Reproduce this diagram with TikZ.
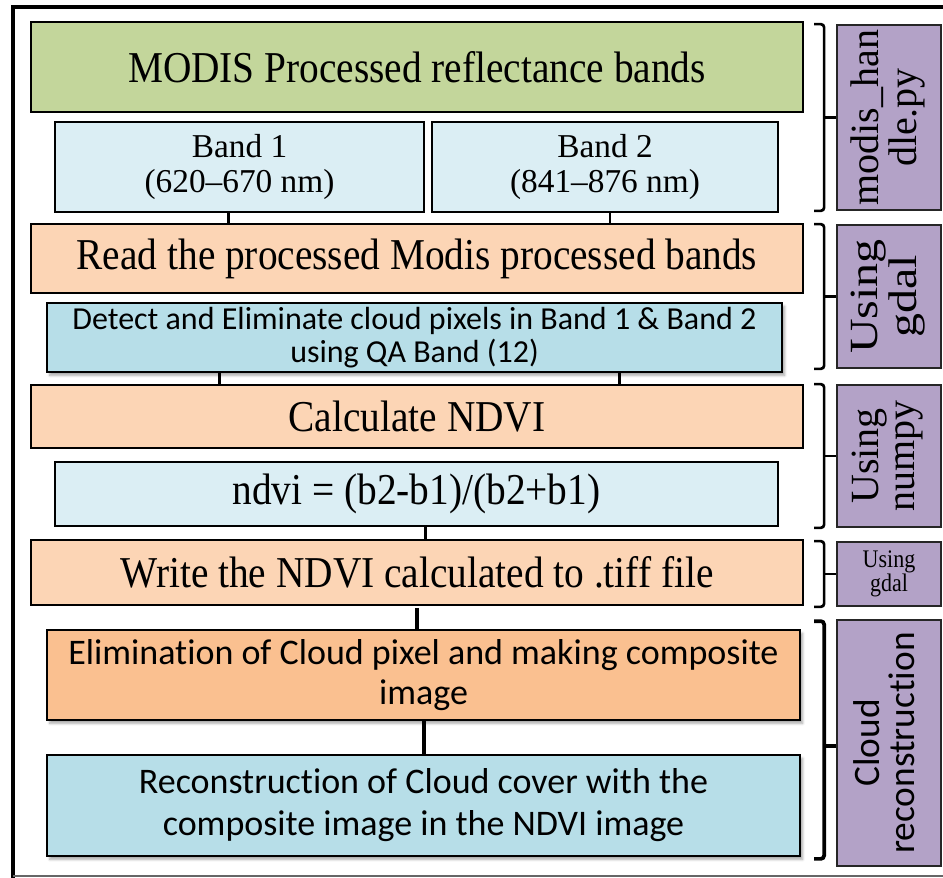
\documentclass[tikz,border=0pt]{standalone}
\usepackage{fontspec}
\usepackage{graphicx}
\setmainfont{Liberation Serif}
\newfontfamily\calib[Ligatures=NoCommon]{Carlito}
\usetikzlibrary{shadows.blur}

\definecolor{modisgreen}{HTML}{C3D69B}
\definecolor{paleblue}{HTML}{DBEEF4}
\definecolor{peach}{HTML}{FCD5B5}
\definecolor{qablue}{HTML}{B7DEE8}
\definecolor{deeppeach}{HTML}{FAC090}
\definecolor{toolpurple}{HTML}{B3A2C7}

% slightly tall serif lettering used in the step boxes
\newcommand\tallrm[1]{\scalebox{1}[1.12]{#1}}

\begin{document}
\begin{tikzpicture}[x=0.75pt,y=-0.75pt,
  box/.style={draw=black, line width=1.3pt, inner sep=0pt, align=center, text=black},
  serifbig/.style={font=\fontsize{29.5}{33}\selectfont},
  softshadow/.style={blur shadow={shadow xshift=2pt, shadow yshift=-2.5pt, shadow blur steps=6, shadow opacity=35}},
  link/.style={draw=black, line width=2.2pt},
  brk/.style={draw=black, line width=2pt, rounded corners=2.5pt},
  tool/.style={box, fill=toolpurple, draw=black!85}]
\useasboundingbox (0,0) rectangle (943,878);

% outer frame
\draw[line width=3pt] (13,882) -- (13,7) -- (950,7);
\draw[gray!80!black, line width=1.5pt] (13,876) -- (950,876);

% processing steps
\node[box, fill=modisgreen, minimum width=579pt, minimum height=67.5pt, serifbig] (modis) at (417,67) {\tallrm{MODIS Processed reflectance bands}};
\node[box, fill=paleblue, minimum width=276.75pt, minimum height=67.5pt, font=\fontsize{25}{26}\selectfont] (band1) at (239.5,167) {Band 1\\(620–670 nm)};
\node[box, fill=paleblue, minimum width=259.5pt, minimum height=67.5pt, font=\fontsize{25}{26}\selectfont] (band2) at (605,167) {Band 2\\(841–876 nm)};
\node[box, fill=peach, minimum width=579pt, minimum height=51.75pt, serifbig] (read) at (417,258.5) {\tallrm{Read the processed Modis processed bands}};
\node[box, fill=qablue, softshadow, minimum width=551.25pt, minimum height=51.75pt, font=\calib\fontsize{24}{24.5}\selectfont] (detect) at (414.5,337.5) {Detect and Eliminate cloud pixels in Band 1 \& Band 2\\using QA Band (12)};
\node[box, fill=peach, minimum width=579pt, minimum height=47.25pt, serifbig] (calc) at (417,416.5) {\tallrm{Calculate NDVI}};
\node[box, fill=paleblue, minimum width=542.25pt, minimum height=48pt, serifbig] (ndvi) at (416.5,494) {\tallrm{ndvi = (b2-b1)/(b2+b1)}};
\node[box, fill=peach, minimum width=579pt, minimum height=48.75pt, serifbig] (write) at (417,572.5) {\tallrm{Write the NDVI calculated to .tiff file}};
\node[box, fill=deeppeach, softshadow, minimum width=564.75pt, minimum height=67.5pt, font=\calib\fontsize{27}{30}\selectfont] (elim) at (423.5,675) {Elimination of Cloud pixel and making composite\\image};
\node[box, fill=qablue, softshadow, minimum width=564.75pt, minimum height=75.75pt, font=\calib\fontsize{27}{31.5}\selectfont] (recon) at (423.5,805.5) {Reconstruction of Cloud cover with the\\composite image in the NDVI image};

% connectors
\draw[link] ([xshift=-8.6pt]band1.south) -- ([xshift=-8.6pt]band1.south |- read.north);
\draw[link] ([xshift=3.75pt]band2.south) -- ([xshift=3.75pt]band2.south |- read.north);
\draw[link] ([xshift=-146pt]detect.south) -- ([xshift=-146pt]detect.south |- calc.north);
\draw[link] ([xshift=154pt]detect.south) -- ([xshift=154pt]detect.south |- calc.north);
\draw[link] ([xshift=6.4pt]ndvi.south) -- ([xshift=6.4pt]ndvi.south |- write.north);
\draw[link, line width=2.8pt] ([yshift=-1.5pt]write.south) -- (write.south |- elim.north);
\draw[link, line width=2.8pt] ([xshift=0.4pt]elim.south) -- ([xshift=0.4pt]elim.south |- recon.north);

% tool labels
\node[tool, minimum width=78pt, minimum height=138.75pt] (t1) at (889,117.5)
  {\rotatebox{90}{\fontsize{30}{27}\selectfont\begin{tabular}{@{}c@{}}modis\_han\\dle.py\end{tabular}}};
\node[tool, minimum width=78pt, minimum height=107.25pt] (t2) at (889,296.5)
  {\rotatebox{90}{\scalebox{1.2}[1]{\fontsize{30}{26}\selectfont\begin{tabular}{@{}c@{}}Using\\gdal\end{tabular}}}};
\node[tool, minimum width=78pt, minimum height=106.5pt] (t3) at (889,456)
  {\rotatebox{90}{\fontsize{30}{27}\selectfont\begin{tabular}{@{}c@{}}Using\\numpy\end{tabular}}};
\node[tool, minimum width=78pt, minimum height=48pt, font=\fontsize{16.5}{16}\selectfont] (t4) at (889,574)
  {\scalebox{1}[1.15]{Using}\\\scalebox{1}[1.15]{gdal}};
\node[tool, minimum width=78pt, minimum height=184.5pt] (t5) at (889,743)
  {\rotatebox{90}{\calib\fontsize{28}{25}\selectfont\begin{tabular}{@{}c@{}}Cloud\\reconstruction\end{tabular}}};

% brackets tying each tool to its steps
\foreach \t in {t1,t2,t3,t4} {
  \draw[brk] ([xshift=-16.5pt]\t.north west) -- ([xshift=-9pt]\t.north west) -- ([xshift=-9pt]\t.south west) -- ([xshift=-16.5pt]\t.south west);
  \draw[brk, rounded corners=0pt] ([xshift=-9pt]\t.west) -- (\t.west);
}
\draw[brk, line width=2.8pt] ([xshift=-16.5pt,yshift=-1.5pt]t5.north west) -- ([xshift=-9pt,yshift=-1.5pt]t5.north west) -- ([xshift=-9pt,yshift=6pt]t5.south west) -- ([xshift=-16.5pt,yshift=6pt]t5.south west);
\draw[brk, line width=2.8pt, rounded corners=0pt] ([xshift=-9pt,yshift=-2pt]t5.west) -- ([yshift=-2pt]t5.west);
\end{tikzpicture}
\end{document}
